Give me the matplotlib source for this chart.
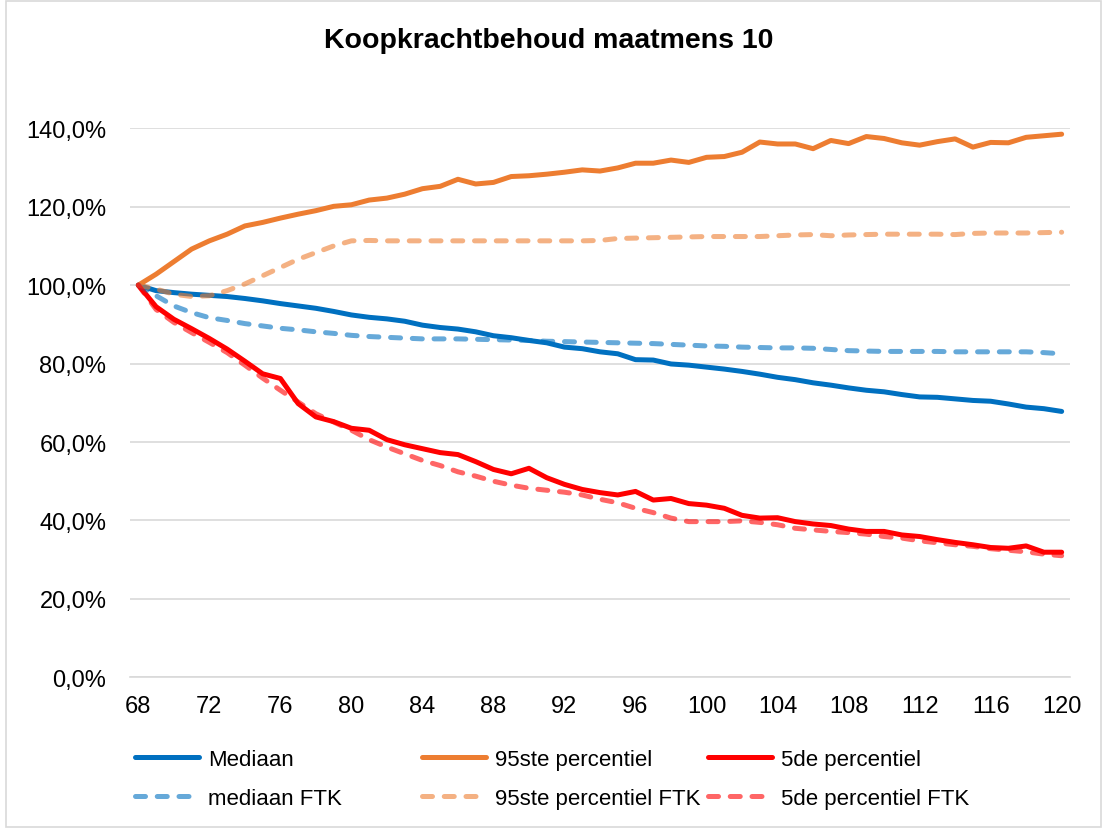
import matplotlib
matplotlib.use("Agg")
import matplotlib.pyplot as plt
from matplotlib.patches import Rectangle
from matplotlib.ticker import FuncFormatter, MultipleLocator

plt.rcParams['font.family'] = ['Liberation Sans', 'DejaVu Sans']

# leeftijd 68 t/m 120
ages = list(range(68, 121))

mediaan = [100.0, 98.6, 98.1, 97.7, 97.4, 97.1, 96.6, 96.0, 95.3, 94.7,
           94.1, 93.3, 92.4, 91.8, 91.4, 90.8, 89.8, 89.2, 88.8, 88.1,
           87.1, 86.6, 85.9, 85.3, 84.2, 83.8, 83.0, 82.5, 81.0, 80.9,
           79.9, 79.6, 79.1, 78.6, 78.0, 77.3, 76.5, 75.9, 75.1, 74.5,
           73.8, 73.2, 72.8, 72.1, 71.5, 71.4, 71.0, 70.6, 70.4, 69.7,
           68.9, 68.5, 67.8]

p95 = [100.0, 102.8, 106.0, 109.2, 111.3, 113.0, 115.1, 116.0, 117.1, 118.1,
       119.0, 120.1, 120.5, 121.7, 122.2, 123.2, 124.6, 125.2, 127.0, 125.8,
       126.2, 127.7, 127.9, 128.3, 128.8, 129.4, 129.1, 129.9, 131.1, 131.1,
       131.9, 131.3, 132.6, 132.8, 133.9, 136.5, 136.0, 136.0, 134.8, 136.9,
       136.1, 137.9, 137.4, 136.3, 135.7, 136.6, 137.3, 135.2, 136.4, 136.3,
       137.7, 138.1, 138.5]

p5 = [100.0, 94.5, 91.3, 88.9, 86.4, 83.7, 80.6, 77.4, 76.2, 69.8,
      66.4, 65.2, 63.5, 63.0, 60.6, 59.3, 58.3, 57.3, 56.8, 55.0,
      53.0, 51.9, 53.3, 50.9, 49.2, 47.9, 47.1, 46.5, 47.4, 45.2,
      45.6, 44.3, 43.9, 43.1, 41.3, 40.6, 40.7, 39.7, 39.1, 38.7,
      37.8, 37.2, 37.2, 36.3, 35.9, 35.1, 34.4, 33.8, 33.1, 32.9,
      33.5, 31.9, 31.9]

mediaan_ftk = [100.0, 97.3, 94.7, 93.0, 91.7, 91.0, 90.2, 89.6, 89.0, 88.6,
               88.1, 87.7, 87.2, 86.9, 86.7, 86.5, 86.3, 86.3, 86.3, 86.2,
               86.1, 86.0, 85.9, 85.7, 85.6, 85.5, 85.4, 85.3, 85.2, 85.1,
               84.9, 84.7, 84.5, 84.4, 84.2, 84.1, 84.0, 84.0, 83.9, 83.6,
               83.3, 83.2, 83.1, 83.1, 83.1, 83.1, 83.0, 83.0, 83.0, 83.0,
               83.0, 82.8, 82.5]

p95_ftk = [100.0, 99.0, 97.7, 97.1, 97.3, 98.6, 100.3, 102.4, 104.5, 106.6,
           108.3, 110.0, 111.3, 111.4, 111.3, 111.3, 111.3, 111.3, 111.3, 111.3,
           111.3, 111.3, 111.3, 111.3, 111.3, 111.3, 111.4, 111.9, 112.0, 112.1,
           112.2, 112.3, 112.4, 112.4, 112.4, 112.4, 112.6, 112.8, 112.9, 112.6,
           112.8, 112.9, 113.0, 113.0, 113.0, 113.0, 112.9, 113.2, 113.3, 113.3,
           113.3, 113.4, 113.5]

p5_ftk = [100.0, 93.8, 90.5, 87.9, 85.4, 82.8, 79.6, 76.3, 73.2, 70.2,
          67.2, 65.1, 63.0, 60.6, 58.7, 57.0, 55.3, 54.0, 52.4, 51.3,
          50.0, 49.0, 48.2, 47.7, 47.2, 46.5, 45.4, 44.5, 43.1, 42.0,
          40.6, 39.7, 39.7, 39.7, 39.9, 39.5, 38.9, 38.0, 37.6, 37.2,
          36.9, 36.5, 35.9, 35.5, 34.8, 34.3, 33.8, 33.4, 32.8, 32.4,
          32.0, 31.4, 31.0]

BLUE = "#0070C0"
ORANGE = "#ED7D31"
RED = "#FF0000"
GRID = "#D9D9D9"

W, H = 1104, 829
fig = plt.figure(figsize=(W / 100, H / 100), dpi=100)
ax = fig.add_axes([130 / W, 1 - 678.3 / H, 940 / W, (678.3 - 129.3) / H])

solid = dict(lw=3.6, solid_capstyle='round', solid_joinstyle='round')
dashed = dict(lw=3.6, alpha=0.6, dashes=(2.0, 2.35), dash_capstyle='round',
              dash_joinstyle='round')

l_med, = ax.plot(ages, mediaan, color=BLUE, label="Mediaan", **solid)
l_95, = ax.plot(ages, p95, color=ORANGE, label="95ste percentiel", **solid)
l_5, = ax.plot(ages, p5, color=RED, label="5de percentiel", **solid)
l_medf, = ax.plot(ages, mediaan_ftk, color=BLUE, label="mediaan FTK", **dashed)
l_95f, = ax.plot(ages, p95_ftk, color=ORANGE, label="95ste percentiel FTK", **dashed)
l_5f, = ax.plot(ages, p5_ftk, color=RED, label="5de percentiel FTK", **dashed)

ax.set_xlim(67.53, 120.47)
ax.set_ylim(0, 140)
ax.xaxis.set_major_locator(MultipleLocator(4))
ax.yaxis.set_major_locator(MultipleLocator(20))
ax.yaxis.set_major_formatter(FuncFormatter(lambda v, p: "{:.1f}%".format(v).replace(".", ",")))
ax.grid(axis='y', color=GRID, lw=1.2)
ax.set_axisbelow(True)
for s in ['top', 'right', 'left']:
    ax.spines[s].set_visible(False)
ax.spines['bottom'].set_color(GRID)
ax.spines['bottom'].set_linewidth(1.2)
ax.tick_params(axis='both', length=0, labelsize=17, colors='black')
ax.tick_params(axis='y', pad=17)
ax.tick_params(axis='x', pad=13)

fig.text(549 / W, 1 - 41 / H, "Koopkrachtbehoud maatmens 10", ha='center', va='center',
         fontsize=20.5, fontweight='bold')

# legenda: drie kolommen, elk met een doorgetrokken en een FTK-lijn
columns = [(135, l_med, l_medf), (422, l_95, l_95f), (708, l_5, l_5f)]
for x0, h1, h2 in columns:
    leg = fig.legend([h1, h2], [h1.get_label(), h2.get_label()],
                     loc='center left', bbox_to_anchor=(x0 / W, 1 - 780 / H),
                     frameon=False, fontsize=16, borderpad=0, borderaxespad=0,
                     handlelength=2.9, handletextpad=0.4, labelspacing=0.82)

fig.patches.append(Rectangle((6 / W, 1 / H), 1095 / W, 826 / H, transform=fig.transFigure,
                             fill=False, edgecolor=GRID, lw=1.2))

fig.savefig("out.png", dpi=100)
